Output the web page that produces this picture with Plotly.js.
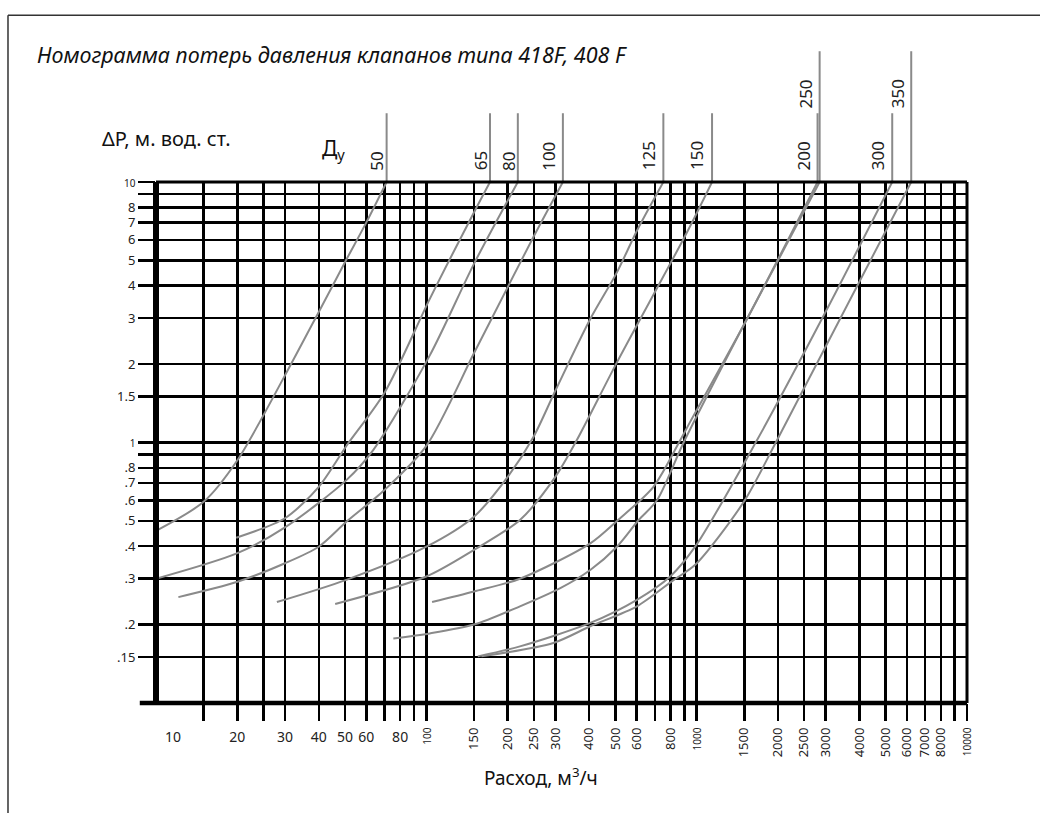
<!DOCTYPE html>
<html><head><meta charset="utf-8">
<script src="https://cdn.plot.ly/plotly-3.0.1.min.js"></script>
<style>html,body{margin:0;padding:0;background:#fff;} #chart{width:1040px;height:813px;}</style>
</head><body><div id="chart"></div>
<script>
// Flow Q (m3/h) and pressure loss dP (m w.c.), per nominal size Ду
const q50  = [10, 15, 20, 30, 40, 50, 60, 71.3];
const dp50 = [0.458, 0.592, 0.855, 1.81, 3.17, 4.92, 7.0, 10];
const q65  = [19.8, 30, 40, 50.6, 70.2, 103, 149, 172];
const dp65 = [0.431, 0.512, 0.676, 0.97, 1.56, 3.56, 7.54, 10];
const q80  = [10, 20, 30, 50.6, 63.6, 103, 150, 218];
const dp80 = [0.30, 0.376, 0.472, 0.717, 0.935, 2.16, 4.85, 10];
const q100  = [12.1, 20, 30, 40, 50.6, 70, 100, 150, 200, 250, 320];
const dp100 = [0.255, 0.292, 0.344, 0.398, 0.496, 0.657, 0.97, 2.2, 3.95, 6.2, 10];
const q125  = [28, 50.6, 100, 150, 200, 249, 300, 404, 507, 601, 753];
const dp125 = [0.244, 0.297, 0.398, 0.519, 0.738, 1.05, 1.58, 2.98, 4.5, 6.5, 10];
const q150  = [46, 100, 150, 222, 300, 360, 507, 920, 1140];
const dp150 = [0.24, 0.306, 0.387, 0.504, 0.738, 1.02, 2.03, 6.4, 10];
const q200  = [105, 150, 222, 404, 507, 692, 869, 946, 1514, 2800];
const dp200 = [0.244, 0.268, 0.3, 0.41, 0.5, 0.676, 1.02, 1.2, 2.9, 10];
const q250  = [75.5, 103, 150, 222, 313, 404, 507, 610, 713, 895, 1514, 2850];
const dp250 = [0.177, 0.185, 0.2, 0.235, 0.276, 0.324, 0.398, 0.504, 0.6, 1.0, 2.9, 10];
const q300  = [155, 222, 404, 601, 798, 990, 1671, 3040, 5289];
const dp300 = [0.151, 0.165, 0.203, 0.249, 0.306, 0.40, 1.02, 3.26, 10];
const q350  = [160, 295, 404, 601, 823, 990, 1494, 1982, 6218];
const dp350 = [0.151, 0.17, 0.197, 0.235, 0.297, 0.34, 0.592, 1.02, 10];

const dnLabels = ['50', '65', '80', '100', '125', '150', '200', '250', '300', '350'];

// axis ticks / grid
const gridQ = [15,20,25,30,40,50,60,70,80,90,100,150,200,250,300,400,500,600,700,800,900,1000,1500,2000,2500,3000,4000,5000,6000,7000,8000,9000,10000];
const gridDP = [0.15,0.2,0.3,0.4,0.5,0.6,0.7,0.8,1,1.5,2,3,4,5,6,7,8,10];
const dpTickText = ['.15','.2','.3','.4','.5','.6','.7','.8','1','1.5','2','3','4','5','6','7','8','10'];
const gridDPUnlabelled = [0.9, 9];
const qFirstTick = [10];
const qFlatTicks = [20,30,40,50,60,80];
const qRotTicks = [100,150,200,250,300,400,500,600,800,1000,1500,2000,2500,3000,4000,5000,6000,7000,8000,10000];

const FONT = 'Noto Sans, Open Sans, DejaVu Sans, sans-serif';
const GRAY = '#8a8a8a';
const small = (t, s) => '<span style="font-size:' + s + 'px">' + t + '</span>';

const qs = [q50,q65,q80,q100,q125,q150,q200,q250,q300,q350];
const dps = [dp50,dp65,dp80,dp100,dp125,dp150,dp200,dp250,dp300,dp350];
// leader top (paper) and label centre (paper) for each size
const leaderTop = [1.132,1.132,1.132,1.132,1.132,1.132,1.132,1.251,1.132,1.251];
const labelY    = [1.040,1.040,1.040,1.050,1.050,1.050,1.050,1.169,1.050,1.169];
const labelShift= [-10,-10,-10,-14,-14,-15,-14,-14,-14,-13];

const traces = qs.map((q, i) => ({
  type: 'scatter', mode: 'lines', x: q, y: dps[i], name: 'Ду ' + dnLabels[i],
  line: {color: GRAY, width: 2, shape: 'spline', smoothing: 0.8},
  showlegend: false, hovertemplate: 'Ду ' + dnLabels[i] + '<br>Q=%{x}<br>ΔP=%{y}<extra></extra>'
}));
['x2','x3','x4'].forEach(ax => traces.push({type:'scatter', mode:'lines', x:[10], y:[null], xaxis: ax, yaxis:'y', showlegend:false, hoverinfo:'skip'}));

const shapes = [];
const annotations = [];
qs.forEach((q, i) => {
  const qTop = q[q.length - 1];
  shapes.push({type:'line', xref:'x', yref:'paper', x0:qTop, x1:qTop, y0:1, y1:leaderTop[i], line:{color:GRAY, width:2}});
  annotations.push({xref:'x', yref:'paper', x:Math.log10(qTop), y:labelY[i], xshift:labelShift[i], text:dnLabels[i], textangle:-90, showarrow:false, font:{family:FONT, size:17, color:'#222'}, xanchor:'center', yanchor:'middle'});
});
// frame of the grid
shapes.push({type:'line', xref:'paper', yref:'paper', x0:0, x1:0, y0:0, y1:1, line:{color:'#000', width:6}});
shapes.push({type:'line', xref:'paper', yref:'paper', x0:-0.02, x1:1, y0:0, y1:0, line:{color:'#000', width:4.5}});
shapes.push({type:'line', xref:'paper', yref:'paper', x0:0, x1:1, y0:1, y1:1, line:{color:'#000', width:3}});
shapes.push({type:'line', xref:'paper', yref:'paper', x0:1, x1:1, y0:0, y1:1, line:{color:'#000', width:3}});
// page border
shapes.push({type:'line', xref:'paper', yref:'paper', x0:-0.1825, x1:1.1, y0:1.3199, y1:1.3199, line:{color:'#333', width:1.5}});
shapes.push({type:'line', xref:'paper', yref:'paper', x0:-0.1825, x1:-0.1825, y0:1.3199, y1:-0.25, line:{color:'#333', width:1.5}});

annotations.push({xref:'paper', yref:'paper', x:-0.069, y:1.0843, xanchor:'left', yanchor:'middle', text:'ΔP, м. вод. ст.', showarrow:false, font:{family:FONT, size:20, color:'#111'}});
annotations.push({xref:'paper', yref:'paper', x:0.2022, y:1.0632, xanchor:'left', yanchor:'middle', text:'Д<sub>у</sub>', showarrow:false, font:{family:FONT, size:21, color:'#111'}});
annotations.push({xref:'paper', yref:'paper', x:0.4747, y:-0.1418, xanchor:'center', yanchor:'middle', text:'Расход, м<sup>3</sup>/ч', showarrow:false, font:{family:FONT, size:19, color:'#111'}});

const baseX = {type:'log', range:[1,4], showgrid:false, zeroline:false, showline:false, fixedrange:true};
const layout = {
  width: 1040, height: 813,
  margin: {l:156, r:73, t:182, b:110},
  paper_bgcolor:'#fff', plot_bgcolor:'#fff',
  font: {family: FONT, color:'#222'},
  title: {text:'Номограмма потерь давления клапанов типа 418F, 408 F', x:0.0356, xanchor:'left', xref:'container', y:0.9323, yanchor:'middle', yref:'container', font:{family:FONT, size:21.5, style:'italic', color:'#111'}},
  xaxis: Object.assign({}, baseX, {tickvals:gridQ, showgrid:true, gridcolor:'#000', gridwidth:2.5, ticks:'outside', ticklen:17, tickwidth:2.5, tickcolor:'#000', showticklabels:false}),
  xaxis2: Object.assign({}, baseX, {overlaying:'x', anchor:'y', side:'bottom', tickvals:qFlatTicks, ticktext:qFlatTicks.map(String), tickangle:0, ticks:'', ticklabelstandoff:24, tickfont:{family:FONT, size:14, color:'#222'}}),
  xaxis3: Object.assign({}, baseX, {overlaying:'x', anchor:'y', side:'bottom', tickvals:qRotTicks, ticktext:qRotTicks.map(v => (v===100||v===1000||v===10000) ? small(String(v), 10) : String(v)), tickangle:-90, ticks:'', ticklabelstandoff:21, tickfont:{family:FONT, size:13, color:'#222'}}),
  xaxis4: Object.assign({}, baseX, {overlaying:'x', anchor:'y', side:'bottom', tickvals:qFirstTick, ticktext:qFirstTick.map(String), tickangle:0, ticks:'', ticklabelstandoff:24, ticklabelshift:17, tickfont:{family:FONT, size:14, color:'#222'}}),
  yaxis: {type:'log', range:[-1,1], tickvals:gridDP, ticktext:dpTickText.map(t => (t==='1'||t==='10') ? small(t, 10) : t), showgrid:true, gridcolor:'#000', gridwidth:2.5, ticks:'outside', ticklen:17, tickwidth:2.5, tickcolor:'#000', zeroline:false, showline:false, tickfont:{family:FONT, size:13, color:'#222'}, fixedrange:true,
    minor:{tickmode:'array', tickvals:gridDPUnlabelled, showgrid:true, gridcolor:'#000', gridwidth:2.5, ticks:'outside', ticklen:17, tickwidth:2.5, tickcolor:'#000'}},
  shapes: shapes,
  annotations: annotations,
  showlegend: false
};
Plotly.newPlot('chart', traces, layout, {displayModeBar:false, staticPlot:true});
</script>
</body></html>
